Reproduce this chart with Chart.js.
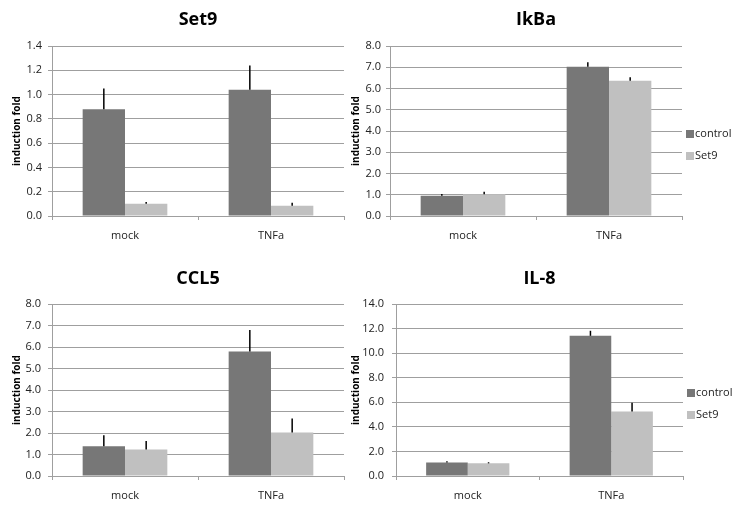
<!DOCTYPE html>
<html>
<head>
<meta charset="utf-8">
<script src="https://cdn.jsdelivr.net/npm/chart.js@4.4.1/dist/chart.umd.min.js"></script>
<style>
  body { margin: 0; background: #fff; width: 733px; height: 506px; overflow: hidden; position: relative; }
  .panel { position: absolute; }
</style>
</head>
<body>
<div class="panel" style="left:0;top:0;width:360px;height:250px"><canvas id="set9Chart"></canvas></div>
<div class="panel" style="left:340px;top:0;width:393px;height:250px"><canvas id="ikbaChart"></canvas></div>
<div class="panel" style="left:0;top:256px;width:360px;height:250px"><canvas id="ccl5Chart"></canvas></div>
<div class="panel" style="left:340px;top:256px;width:393px;height:250px"><canvas id="il8Chart"></canvas></div>
<script>
// categories and series
const categories = ['mock', 'TNFa'];
const seriesNames = ['control', 'Set9'];

// Set9 panel
const set9Control = [0.88, 1.04];
const set9Set9 = [0.10, 0.085];
const set9ControlErr = [0.17, 0.20];
const set9Set9Err = [0.015, 0.025];

// IkBa panel
const ikbaControl = [0.95, 7.02];
const ikbaSet9 = [1.02, 6.37];
const ikbaControlErr = [0.08, 0.21];
const ikbaSet9Err = [0.12, 0.16];

// CCL5 panel
const ccl5Control = [1.38, 5.79];
const ccl5Set9 = [1.23, 2.02];
const ccl5ControlErr = [0.52, 1.0];
const ccl5Set9Err = [0.40, 0.66];

// IL-8 panel
const il8Control = [1.09, 11.41];
const il8Set9 = [1.03, 5.26];
const il8ControlErr = [0.11, 0.41];
const il8Set9Err = [0.09, 0.71];

// y axis ranges (tick labels run 0..max by step, one decimal)
const yMax = [1.4, 8, 8, 14];
const yStep = [0.2, 1, 1, 2];

const controlColor = '#777777';
const set9Color = '#c0c0c0';
const gridColor = '#9f9f9f';

Chart.defaults.font.family = "'Open Sans', sans-serif";
Chart.defaults.color = '#222';

// upper error bars, no caps
const errorBars = {
    id: 'errorBars',
    afterDatasetsDraw(chart) {
        const ctx = chart.ctx;
        const yScale = chart.scales.y;
        ctx.save();
        ctx.strokeStyle = '#000';
        ctx.lineWidth = 1.5;
        chart.data.datasets.forEach((ds, i) => {
            chart.getDatasetMeta(i).data.forEach((bar, j) => {
                const top = yScale.getPixelForValue(ds.data[j] + ds.errors[j]);
                ctx.beginPath();
                ctx.moveTo(bar.x, bar.y);
                ctx.lineTo(bar.x, top);
                ctx.stroke();
            });
        });
        ctx.restore();
    }
};

// small legend to the right of the plot (right panels only)
const sideLegend = {
    id: 'sideLegend',
    afterDraw(chart, args, opts) {
        if (!opts.display) return;
        const ctx = chart.ctx;
        const area = chart.chartArea;
        const midY = (area.top + area.bottom) / 2;
        ctx.save();
        ctx.font = "11px 'Open Sans', sans-serif";
        ctx.textBaseline = 'middle';
        ctx.textAlign = 'left';
        chart.data.datasets.forEach((ds, i) => {
            const cy = midY + 3 + i * 22;
            ctx.fillStyle = ds.backgroundColor;
            ctx.fillRect(area.right + 4, cy - 4, 8, 8);
            ctx.fillStyle = '#222';
            ctx.fillText(ds.label, area.right + 13, cy);
        });
        ctx.restore();
    }
};

function makeChart(id, title, control, set9, controlErr, set9Err, max, step, box) {
    const ctx = document.getElementById(id).getContext('2d');
    return new Chart(ctx, {
        type: 'bar',
        data: {
            labels: categories,
            datasets: [
                { label: seriesNames[0], data: control, errors: controlErr, backgroundColor: controlColor, borderWidth: 0 },
                { label: seriesNames[1], data: set9, errors: set9Err, backgroundColor: set9Color, borderWidth: 0 }
            ]
        },
        options: {
            responsive: true,
            maintainAspectRatio: false,
            animation: false,
            devicePixelRatio: 1,
            layout: { padding: { left: 0, right: box.rightPad, top: 0, bottom: 0 } },
            datasets: { bar: { categoryPercentage: 0.58, barPercentage: 1 } },
            scales: {
                x: {
                    grid: { display: true, drawOnChartArea: false, tickLength: 4, color: gridColor },
                    border: { color: gridColor },
                    ticks: { padding: 9, font: { size: 11 } },
                    afterFit: (scale) => { scale.height = box.xHeight; }
                },
                y: {
                    min: 0,
                    max: max,
                    ticks: {
                        stepSize: step,
                        padding: box.tickPad,
                        font: { size: 11 },
                        callback: (v) => Number(v).toFixed(1)
                    },
                    grid: { color: gridColor, tickLength: 4 },
                    border: { color: gridColor },
                    title: {
                        display: true,
                        text: 'induction fold',
                        color: '#000',
                        font: { size: 10, weight: 'bold' },
                        padding: { top: box.yTitlePad, bottom: 0 }
                    },
                    afterFit: (scale) => { scale.width = box.yWidth; }
                }
            },
            plugins: {
                legend: { display: false },
                tooltip: { enabled: false },
                title: {
                    display: true,
                    text: title,
                    color: '#000',
                    fullSize: false,
                    font: { size: 18, weight: 'bold' },
                    padding: { top: box.titleTop, bottom: box.titleBottom }
                },
                sideLegend: { display: box.legend }
            }
        },
        plugins: [errorBars, sideLegend]
    });
}

makeChart('set9Chart', 'Set9', set9Control, set9Set9, set9ControlErr, set9Set9Err, yMax[0], yStep[0],
    { yWidth: 52, rightPad: 16, xHeight: 34, titleTop: 9, titleBottom: 15.4, tickPad: 6, yTitlePad: 11, legend: false });
makeChart('ikbaChart', 'IkBa', ikbaControl, ikbaSet9, ikbaControlErr, ikbaSet9Err, yMax[1], yStep[1],
    { yWidth: 50, rightPad: 51, xHeight: 34, titleTop: 9, titleBottom: 15.4, tickPad: 5, yTitlePad: 10, legend: true });
makeChart('ccl5Chart', 'CCL5', ccl5Control, ccl5Set9, ccl5ControlErr, ccl5Set9Err, yMax[2], yStep[2],
    { yWidth: 52, rightPad: 16, xHeight: 30, titleTop: 12.2, titleBottom: 14.2, tickPad: 7, yTitlePad: 11, legend: false });
makeChart('il8Chart', 'IL-8', il8Control, il8Set9, il8ControlErr, il8Set9Err, yMax[3], yStep[3],
    { yWidth: 56, rightPad: 50, xHeight: 30, titleTop: 12.2, titleBottom: 14.2, tickPad: 8, yTitlePad: 10, legend: true });
</script>
</body>
</html>
